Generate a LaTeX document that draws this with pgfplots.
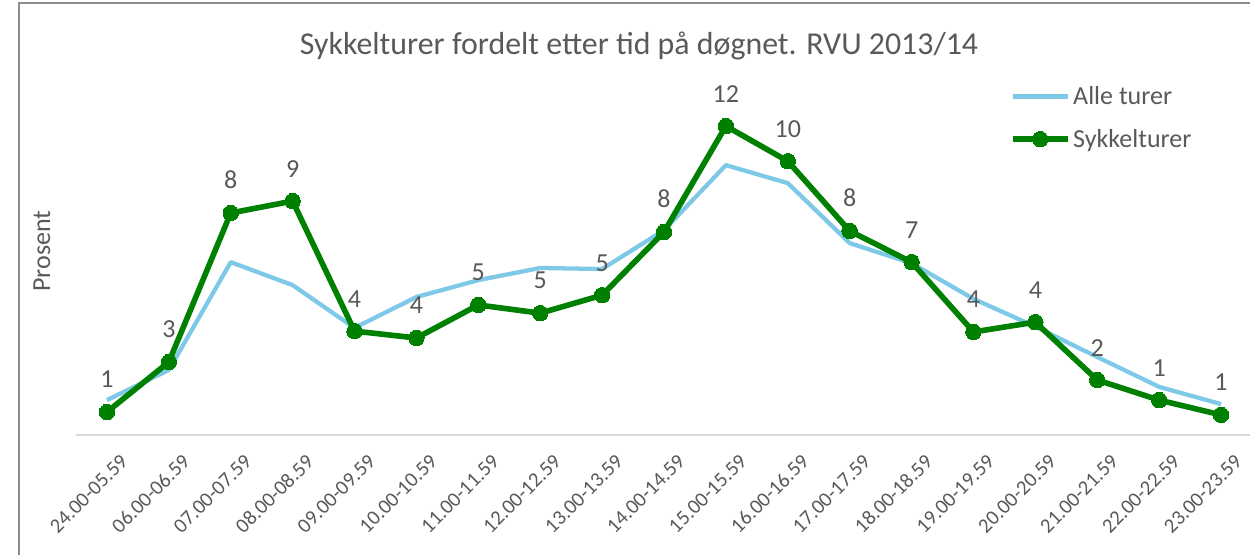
\documentclass[border=0pt]{standalone}
\usepackage{pgfplots}
\pgfplotsset{compat=1.18}
\usepackage{pgfplotstable}
\usepackage{fontspec}
\setmainfont{Carlito}
\definecolor{txt}{HTML}{595959}
\definecolor{grn}{HTML}{008000}
\definecolor{blu}{HTML}{7FC9E8}
\definecolor{axl}{HTML}{D9D9D9}
\definecolor{frm}{HTML}{8C8C8C}

\pgfplotstableread{
x y
0 1.32
1 2.46
2 6.54
3 5.67
4 4.05
5 5.22
6 5.86
7 6.32
8 6.28
9 7.75
10 10.21
11 9.53
12 7.26
13 6.50
14 5.15
15 4.10
16 2.95
17 1.82
18 1.17
}\alle

\pgfplotstableread{
x y lab
0 0.87 1
1 2.76 3
2 8.40 8
3 8.85 9
4 3.93 4
5 3.67 4
6 4.92 5
7 4.61 5
8 5.29 5
9 7.68 8
10 11.69 12
11 10.36 10
12 7.72 8
13 6.54 7
14 3.90 4
15 4.27 4
16 2.08 2
17 1.32 1
18 0.76 1
}\sykkel

\begin{document}
\begin{tikzpicture}
\path[use as bounding box] (0pt,0pt) rectangle (937.5pt,416.25pt);
\draw[frm, line width=1.5pt] (14.25pt,-4pt) -- (14.25pt,414pt) -- (945pt,414pt);
\node[anchor=base, text=txt, font=\fontsize{23.9}{28}\selectfont, inner sep=0pt] at (479.25pt,375pt) {Sykkelturer fordelt etter tid på døgnet. RVU 2013/14};
\node[rotate=90, anchor=base, text=txt, font=\fontsize{19.5}{23}\selectfont, inner sep=0pt] at (37.5pt,228pt) {Prosent};
\begin{axis}[
  at={(57pt,90pt)}, anchor=south west,
  scale only axis, width=882pt, height=277.5pt,
  xmin=-0.5, xmax=18.5, ymin=0, ymax=14,
  clip=false,
  axis x line*=bottom, axis y line=none,
  x axis line style={axl, line width=1.5pt, -},
  xtick={0,...,18},
  xticklabels={24.00-05.59,06.00-06.59,07.00-07.59,08.00-08.59,09.00-09.59,10.00-10.59,11.00-11.59,12.00-12.59,13.00-13.59,14.00-14.59,15.00-15.59,16.00-16.59,17.00-17.59,18.00-18.59,19.00-19.59,20.00-20.59,21.00-21.59,22.00-22.59,23.00-23.59},
  xtick style={draw=none},
  ytick=\empty,
  xticklabel style={rotate=45, anchor=east, text=txt, font=\fontsize{15.5}{18}\selectfont, inner sep=1pt, xshift=-2pt, yshift=-21.5pt},
  legend style={draw=none, fill=none, at={(0.794,0.95)}, anchor=north west, inner sep=0pt, row sep=13pt, font=\fontsize{19.5}{21}\selectfont, text=txt, cells={anchor=west}},
  legend image code/.code={\draw[mark repeat=2,mark phase=2,#1] plot coordinates {(0pt,0pt) (20.6pt,0pt) (41.2pt,0pt)};},
]
\addplot[blu, line width=3.2pt, line join=round, no marks] table[x=x,y=y]{\alle};
\addlegendentry{Alle turer}
\addplot[grn, line width=4.2pt, line join=round, mark=*, mark size=5.8pt,
  mark options={solid, fill=grn, draw=grn, line width=0pt},
  nodes near coords, point meta=explicit symbolic,
  every node near coord/.append style={anchor=south, text=txt, font=\fontsize{19.5}{22}\selectfont, inner sep=0pt, yshift=18pt}]
  table[x=x,y=y,meta=lab]{\sykkel};
\addlegendentry{Sykkelturer}
\end{axis}
\end{tikzpicture}
\end{document}
